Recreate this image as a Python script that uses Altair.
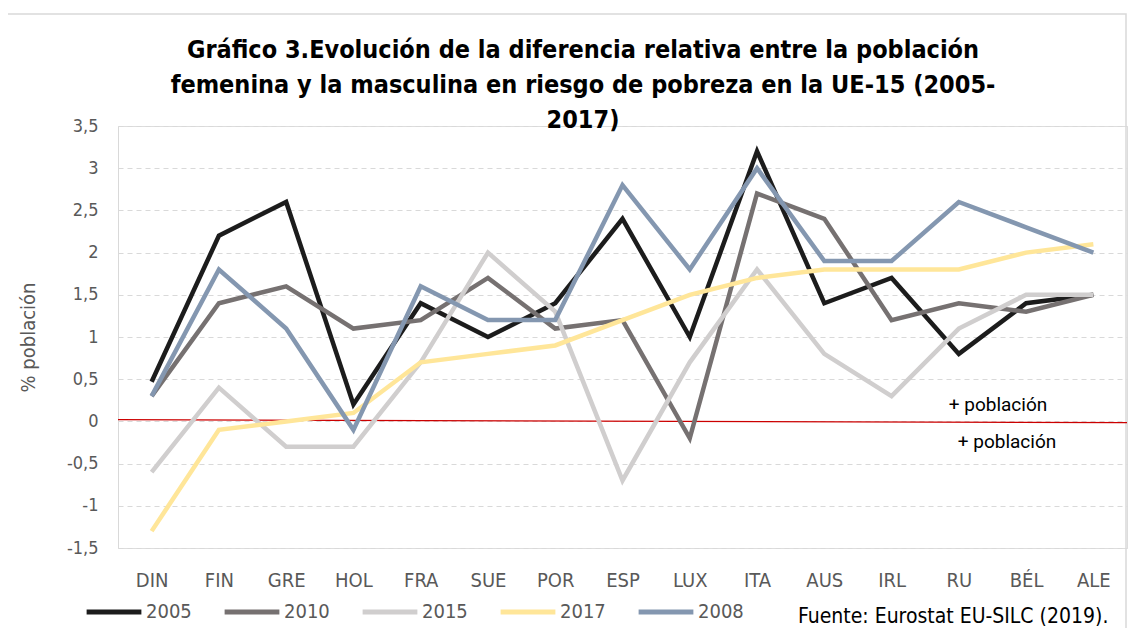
import altair as alt
import pandas as pd

countries = ["DIN", "FIN", "GRE", "HOL", "FRA", "SUE", "POR", "ESP", "LUX", "ITA", "AUS", "IRL", "RU", "BÉL", "ALE"]
series_names = ["2005", "2010", "2015", "2017", "2008"]
series_colors = ["#1c1c1c", "#767171", "#d0cece", "#ffe699", "#8497b0"]

v2005 = [0.47, 2.2, 2.6, 0.2, 1.4, 1.0, 1.4, 2.4, 1.0, 3.2, 1.4, 1.7, 0.8, 1.4, 1.5]
v2010 = [0.3, 1.4, 1.6, 1.1, 1.2, 1.7, 1.1, 1.2, -0.2, 2.7, 2.4, 1.2, 1.4, 1.3, 1.5]
v2015 = [-0.6, 0.4, -0.3, -0.3, 0.7, 2.0, 1.3, -0.7, 0.7, 1.8, 0.8, 0.3, 1.1, 1.5, 1.5]
v2017 = [-1.3, -0.1, 0.0, 0.1, 0.7, 0.8, 0.9, 1.2, 1.5, 1.7, 1.8, 1.8, 1.8, 2.0, 2.1]
v2008 = [0.3, 1.8, 1.1, -0.1, 1.6, 1.2, 1.2, 2.8, 1.8, 3.0, 1.9, 1.9, 2.6, 2.3, 2.0]

y_ticks = [-1.5, -1, -0.5, 0, 0.5, 1, 1.5, 2, 2.5, 3, 3.5]

title_lines = ["Gráfico 3.Evolución de la diferencia relativa entre la población",
               "femenina y la masculina en riesgo de pobreza en la UE-15 (2005-",
               "2017)"]
annot_text = "+ población"
source_text = "Fuente: Eurostat EU-SILC (2019)."

FONT = "DejaVu Sans Condensed, Liberation Sans Narrow, Roboto, sans-serif"
W, H = 1009, 422

rows = []
for name, vals in zip(series_names, [v2005, v2010, v2015, v2017, v2008]):
    for c, v in zip(countries, vals):
        rows.append({"pais": c, "valor": v, "serie": name, "orden": series_names.index(name)})
df = pd.DataFrame(rows)

x_enc = alt.X("pais:N", sort=countries,
              scale=alt.Scale(type="point", padding=0.5),
              axis=alt.Axis(title=None, domain=False, ticks=False, grid=False,
                            labelFontSize=20, labelColor="#595959", labelPadding=22,
                            labelFont=FONT, labelAngle=0))
y_enc = alt.Y("valor:Q", scale=alt.Scale(domain=[-1.5, 3.5], nice=False, zero=False),
              axis=alt.Axis(title="% población", values=y_ticks, domain=True, domainColor="#d9d9d9",
                            ticks=False, grid=True, gridColor="#d9d9d9", gridDash=[5, 4],
                            labelExpr="replace(toString(datum.value), '.', ',')",
                            labelFontSize=18, labelColor="#595959", labelPadding=20, labelFont=FONT,
                            titleFontSize=20, titleColor="#595959", titleFont=FONT,
                            titleFontWeight="normal", titlePadding=28))

lines = alt.Chart(df).mark_line(strokeWidth=4.5, strokeJoin="miter").encode(
    x=x_enc, y=y_enc,
    color=alt.Color("serie:N", scale=alt.Scale(domain=series_names, range=series_colors),
                    legend=alt.Legend(title=None, orient="none", legendX=-34, legendY=456,
                                      direction="horizontal", columns=5, symbolType="stroke",
                                      symbolSize=3000, symbolStrokeWidth=5, labelFontSize=20,
                                      labelColor="#595959", labelFont=FONT, labelOffset=2,
                                      columnPadding=22)),
    order="orden:Q",
)

zero_df = pd.DataFrame({"y1": [0.02], "y2": [-0.015]})
zero_line = alt.Chart(zero_df).mark_rule(color="#cc0000", strokeWidth=1.2).encode(
    x=alt.value(0), x2=alt.value(W),
    y=alt.Y("y1:Q", scale=alt.Scale(domain=[-1.5, 3.5], nice=False)), y2="y2:Q")

annot_df = pd.DataFrame({"t": [annot_text, annot_text], "yv": [0.19, -0.24], "px": [880, 889]})
annots = alt.Chart(annot_df).mark_text(fontSize=19, color="#000000", font="Roboto, sans-serif",
                                       align="center", baseline="middle").encode(
    x=alt.X("px:Q", scale=None), y=alt.Y("yv:Q"), text="t:N")

src_df = pd.DataFrame({"t": [source_text]})
source = alt.Chart(src_df).mark_text(fontSize=21, color="#000000", font=FONT,
                                     align="left", baseline="middle").encode(
    x=alt.value(680), y=alt.value(491), text="t:N")

title_df = pd.DataFrame({"t": title_lines, "py": [-76, -41, -6]})
title = alt.Chart(title_df).mark_text(fontSize=25, fontWeight="bold", color="#000000", font=FONT,
                                      align="center", baseline="middle").encode(
    x=alt.value(465), y=alt.Y("py:Q", scale=None), text="t:N")

frame_df = pd.DataFrame({"a": [1]})
frame = alt.Chart(frame_df).mark_rect(fill=None, stroke="#d9d9d9", strokeWidth=1.5, clip=False).encode(
    x=alt.value(-113), x2=alt.value(1008), y=alt.value(-112), y2=alt.value(530))

chart = alt.layer(frame, zero_line, lines, annots, source, title).properties(
    width=W, height=H,
    padding={"left": 110, "top": 118, "right": 10, "bottom": 80},
    autosize=alt.AutoSizeParams(type="none"),
).configure_view(stroke=None).configure(background="white")

chart.save("out.html", embed_options={"renderer": "svg", "actions": False})
